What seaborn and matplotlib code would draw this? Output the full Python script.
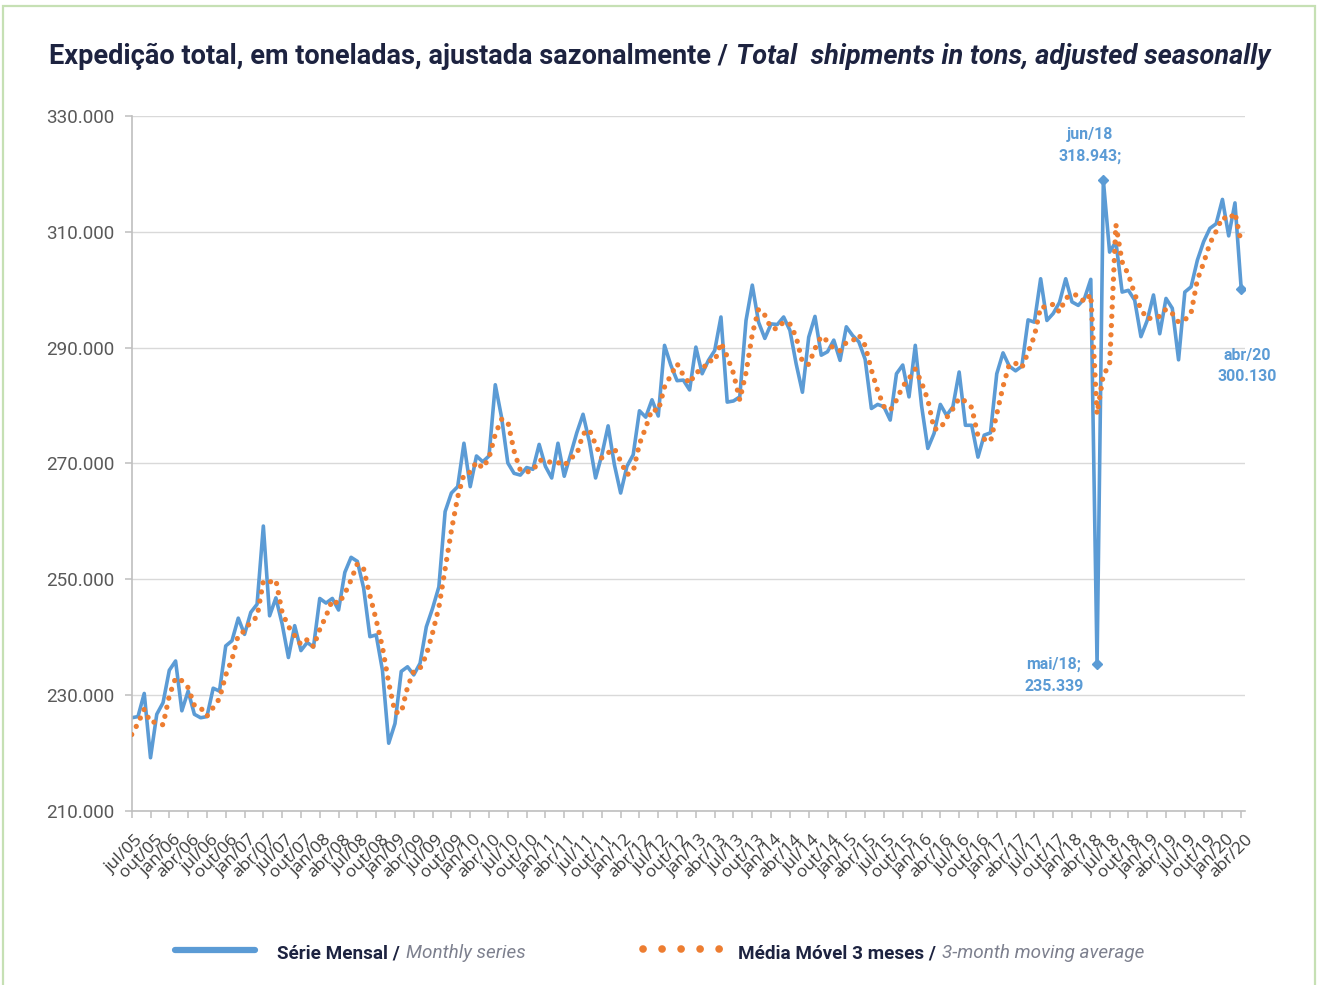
import numpy as np
import pandas as pd
import matplotlib
matplotlib.use("Agg")
import matplotlib.pyplot as plt
import seaborn as sns
from matplotlib import font_manager
from matplotlib.patches import Rectangle
from matplotlib.lines import Line2D
from matplotlib.ticker import FuncFormatter
from matplotlib.transforms import ScaledTranslation

# expedição total ajustada (t), jul/05 .. abr/20
serie_mensal = [
    226100, 226300, 230300, 219200, 226700, 228700,                                          # 2005 (jul-dez)
    234300, 235900, 227300, 230700, 226700, 226100, 226300, 231200, 230700, 238500, 239400, 243300,  # 2006
    240500, 244300, 245700, 259200, 243700, 246800, 242300, 236500, 242000, 237700, 239100, 238300,  # 2007
    246700, 245900, 246700, 244700, 251200, 253800, 253100, 248500, 240100, 240400, 234300, 221700,  # 2008
    225100, 234100, 234900, 233500, 235500, 241800, 245000, 248700, 261700, 264900, 266000, 273500,  # 2009
    266000, 271300, 270300, 271300, 283600, 278000, 270100, 268300, 268000, 269300, 269000, 273300,  # 2010
    269500, 267500, 273500, 267800, 271500, 275300, 278500, 273800, 267500, 271500, 276500, 269800,  # 2011
    264900, 269500, 271500, 279100, 278000, 281000, 278200, 290400, 287000, 284300, 284400, 282700,  # 2012
    290100, 285500, 287800, 289500, 295300, 280600, 280800, 281500, 294700, 300800, 294400, 291600,  # 2013
    294100, 294000, 295300, 293000, 287200, 282300, 291800, 295400, 288700, 289300, 291300, 287800,  # 2014
    293600, 292100, 291000, 288000, 279500, 280200, 279800, 277500, 285500, 287000, 281500, 290400,  # 2015
    280000, 272600, 275200, 280200, 278300, 279800, 285800, 276600, 276600, 271100, 274900, 275300,  # 2016
    285500, 289100, 286800, 286000, 286800, 294800, 294400, 301900, 294700, 295900, 297800, 301900,  # 2017
    297900, 297300, 298500, 301800, 235339, 318943, 306500, 308300, 299600, 299900, 298200, 291900,  # 2018
    294700, 299100, 292400, 298500, 296800, 287900, 299600, 300500, 305100, 308300, 310600, 311400,  # 2019
    315600, 309300, 315000, 300130,                                                          # 2020 (jan-abr)
]
# mai/05 e jun/05, fora do gráfico, só entram na média móvel dos dois primeiros meses
serie_anterior = [220500, 223000]

rotulos_x = [
    "jul/05", "out/05",
    "jan/06", "abr/06", "jul/06", "out/06", "jan/07", "abr/07", "jul/07", "out/07",
    "jan/08", "abr/08", "jul/08", "out/08", "jan/09", "abr/09", "jul/09", "out/09",
    "jan/10", "abr/10", "jul/10", "out/10", "jan/11", "abr/11", "jul/11", "out/11",
    "jan/12", "abr/12", "jul/12", "out/12", "jan/13", "abr/13", "jul/13", "out/13",
    "jan/14", "abr/14", "jul/14", "out/14", "jan/15", "abr/15", "jul/15", "out/15",
    "jan/16", "abr/16", "jul/16", "out/16", "jan/17", "abr/17", "jul/17", "out/17",
    "jan/18", "abr/18", "jul/18", "out/18", "jan/19", "abr/19", "jul/19", "out/19",
    "jan/20", "abr/20",
]

# pontos marcados no gráfico: (índice do mês, rótulo do mês, sufixo)
destaques = [(154, "mai/18;", ""), (155, "jun/18", ";"), (177, "abr/20", "")]

sns.set_theme(style="ticks")
nomes = {f.name for f in font_manager.fontManager.ttflist}
if "Liberation Sans Narrow" in nomes:
    ESTREITA, esc = "Liberation Sans Narrow", 1.0
else:
    ESTREITA, esc = "Roboto", 0.85
plt.rcParams["font.family"] = [ESTREITA, "DejaVu Sans"]

azul = "#5b9bd5"
laranja = "#ed7d31"
marinho = "#1d2340"
cinza_it = "#7d808e"

def milhar(v):
    return f"{v:,.0f}".replace(",", ".")

mes = np.arange(len(serie_mensal))
media_3m = pd.Series(serie_anterior + serie_mensal).rolling(3).mean().iloc[len(serie_anterior):].to_numpy()
df = pd.DataFrame({"mes": mes, "serie": serie_mensal, "media": media_3m})

W, H = 1317, 985
fig = plt.figure(figsize=(W / 100, H / 100), dpi=100)
ax = fig.add_axes([131.7 / W, 1 - 811 / H, (1245 - 131.7) / W, (811 - 116) / H])

sns.lineplot(data=df, x="mes", y="serie", color=azul, linewidth=2.6, ax=ax, zorder=2)
sns.lineplot(data=df, x="mes", y="media", color=laranja, linewidth=3.8, ax=ax, zorder=3)
ax.lines[-1].set_linestyle((0, (0.01, 1.75)))
ax.lines[-1].set_dash_capstyle("round")

for i, rot, suf in destaques:
    ax.plot(i, serie_mensal[i], marker="D", ms=5, color=azul, zorder=4)

offsets = {154: (-43, -11), 155: (-13, 35), 177: (6, -77)}
for i, rot, suf in destaques:
    v = serie_mensal[i]
    ax.annotate(f"{rot}\n{milhar(v)}{suf}", xy=(i, v), xytext=offsets[i], textcoords="offset pixels",
                ha="center", va="center", multialignment="center", linespacing=1.55,
                color=azul, fontsize=13.5 * esc, fontweight="bold", annotation_clip=False)

ax.set_xlim(0, len(serie_mensal) - 1 + 0.6)
ax.set_ylim(210000, 330000)
ax.set_yticks(np.arange(210000, 330001, 20000))
ax.yaxis.set_major_formatter(FuncFormatter(lambda v, p: milhar(v)))
ax.set_xticks(mes[::3])
ax.set_xticklabels(rotulos_x, rotation=45, ha="right", va="top", rotation_mode="anchor")
ax.set_xlabel("")
ax.set_ylabel("")
ax.grid(axis="y", color="#d9d9d9", linewidth=1)
ax.set_axisbelow(True)
for s in ["top", "right"]:
    ax.spines[s].set_visible(False)
for s in ["left", "bottom"]:
    ax.spines[s].set_color("#bfbfbf")
    ax.spines[s].set_linewidth(1.2)
ax.tick_params(axis="both", direction="out", length=5, width=1.1, color="#bfbfbf")
ax.tick_params(axis="y", labelsize=16 * esc, labelcolor="#595959", pad=7.5)
ax.tick_params(axis="x", labelsize=12.5, labelcolor="#3a3a3a", pad=10)
desloc = ScaledTranslation(0.04, 0, fig.dpi_scale_trans)
for lab in ax.get_xticklabels():
    lab.set_fontfamily(["Open Sans", "DejaVu Sans"])
    lab.set_transform(lab.get_transform() + desloc)

# moldura verde
fig.add_artist(Rectangle((3 / W, -0.05), (1315 - 3) / W, 1 - 6 / H + 0.05, transform=fig.transFigure,
                         fill=False, edgecolor="#c6e0b4", linewidth=1.6))

r = fig.canvas.get_renderer()

def texto_em_partes(partes, x_px, y_px, gap_px, centro=False, alvo_px=None):
    objs = [fig.text(0, 1 - y_px / H, t, va="baseline", ha="left", **kw) for t, kw in partes]
    if alvo_px:
        total = sum(o.get_window_extent(r).width for o in objs) + gap_px * (len(objs) - 1)
        for o in objs:
            o.set_fontsize(o.get_fontsize() * alvo_px / total)
    ws = [o.get_window_extent(r).width for o in objs]
    total = sum(ws) + gap_px * (len(objs) - 1)
    x = x_px - total / 2 if centro else x_px
    for o, w in zip(objs, ws):
        o.set_x(x / W)
        x += w + gap_px

texto_em_partes([("Expedição total, em toneladas, ajustada sazonalmente /",
                  dict(fontsize=20, fontweight="bold", color=marinho)),
                 ("Total  shipments in tons, adjusted seasonally",
                  dict(fontsize=20, fontweight="bold", fontstyle="italic", color=marinho))],
                660, 64, 8, centro=True, alvo_px=1216)

# legenda
fig.add_artist(Line2D([175 / W, 255 / W], [1 - 950 / H] * 2, color=azul, linewidth=4.5,
                      solid_capstyle="round"))
fig.add_artist(Line2D([643 / W, 723 / W], [1 - 949 / H] * 2, color=laranja, linewidth=5.5,
                      linestyle=(0, (0.01, 2.48)), dash_capstyle="round"))
texto_em_partes([("Série Mensal /", dict(fontsize=16 * esc, fontweight="bold", color=marinho)),
                 ("Monthly series", dict(fontsize=16 * esc, fontstyle="italic", color=cinza_it))],
                277, 958, 6)
texto_em_partes([("Média Móvel 3 meses /", dict(fontsize=16 * esc, fontweight="bold", color=marinho)),
                 ("3-month moving average", dict(fontsize=16 * esc, fontstyle="italic", color=cinza_it))],
                738, 958, 6)

fig.savefig("out.png", dpi=100)
